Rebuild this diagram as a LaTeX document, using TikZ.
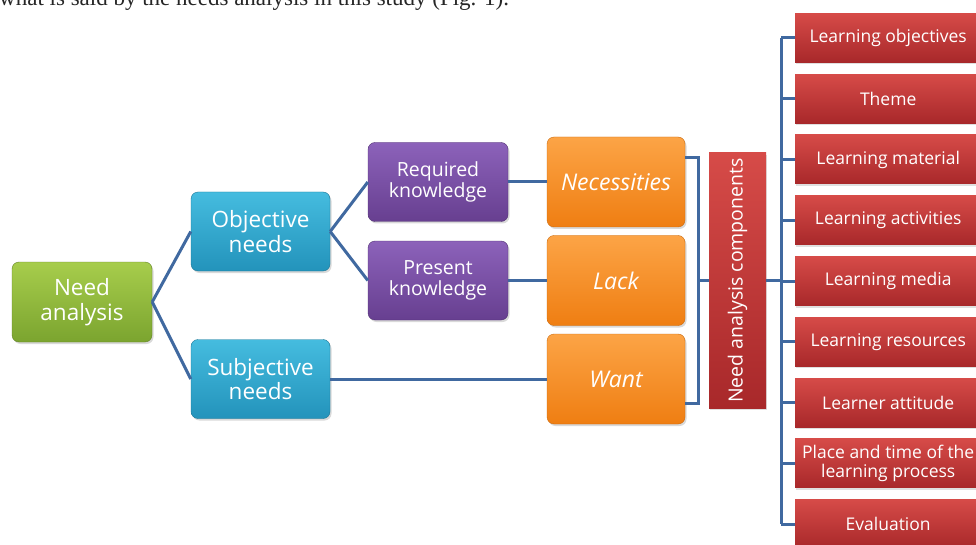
\documentclass[tikz,border=0pt]{standalone}
\usepackage{fontspec}
\setmainfont{Open Sans}
\newfontfamily\captionfont{Liberation Serif}
\usepackage{xcolor}
\usetikzlibrary{positioning,shadows}
\definecolor{linkblue}{HTML}{4069A0}
\definecolor{greentop}{HTML}{A7CD4C}
\definecolor{greenbot}{HTML}{7BA42F}
\definecolor{cyantop}{HTML}{45BCDF}
\definecolor{cyanbot}{HTML}{2393BB}
\definecolor{purpletop}{HTML}{8C62BA}
\definecolor{purplebot}{HTML}{673F90}
\definecolor{orangetop}{HTML}{FCA446}
\definecolor{orangebot}{HTML}{EF7E12}
\definecolor{redtop}{HTML}{D64B48}
\definecolor{redbot}{HTML}{A8282A}

\begin{document}
\begin{tikzpicture}[x=1pt,y=-1pt,
  box/.style={rounded corners=7pt,text=white,align=center,inner sep=2pt,
    drop shadow={shadow xshift=1.5pt,shadow yshift=-2pt,opacity=0.3}},
  greenbox/.style={box,draw=greenbot!80!black,top color=greentop,bottom color=greenbot,
    minimum width=140pt,minimum height=80pt,font=\fontsize{22.5}{24.5}\selectfont},
  cyanbox/.style={box,draw=cyanbot!80!black,top color=cyantop,bottom color=cyanbot,
    minimum width=139pt,minimum height=79pt,font=\fontsize{22.5}{24.5}\selectfont},
  purplebox/.style={box,draw=purplebot!80!black,top color=purpletop,bottom color=purplebot,
    minimum width=140pt,minimum height=79pt,font=\fontsize{19.5}{21.5}\selectfont},
  orangebox/.style={box,draw=orangebot!85!black,top color=orangetop,bottom color=orangebot,
    minimum width=138pt,minimum height=90pt,font=\fontsize{23}{25}\selectfont\itshape},
  redbox/.style={text=white,align=center,inner sep=1pt,top color=redtop,bottom color=redbot,
    drop shadow={shadow xshift=1pt,shadow yshift=-2pt,opacity=0.25}},
  link/.style={draw=linkblue,line width=3pt}]
  \useasboundingbox (0,0) rectangle (976,545);
  \clip (0,0) rectangle (976,545);
  \node[anchor=base west,font=\captionfont\fontsize{23}{23}\selectfont,text=black!85,inner sep=0pt] (caption) at (-1,6) {what is said by the needs analysis in this study (Fig. 1).};
  \node[greenbox] (need) at (82,302) {Need\\analysis};
  \node[cyanbox] (obj) at (260.5,231.5) {Objective\\needs};
  \node[cyanbox] (subj) at (260.5,379) {Subjective\\needs};
  \node[purplebox] (req) at (438,182) {Required\\knowledge};
  \node[purplebox] (pres) at (438,280.5) {Present\\knowledge};
  \node[orangebox] (nec) at (616,182) {Necessities};
  \node[orangebox] (lack) at (616,280.5) {Lack};
  \node[orangebox] (want) at (616,379) {Want};
  \node[redbox,rotate=90,minimum width=255pt,minimum height=57pt,font=\fontsize{19.5}{21}\selectfont] (comp) at (737.5,280.5) {Need analysis components};
  \foreach \txt [count=\i] in {Learning objectives,Theme,Learning material,Learning activities,Learning media,Learning resources,Learner attitude,{Place and time of the\\learning process},Evaluation}
    \node[redbox,anchor=west,minimum width=186pt,minimum height=49pt,font=\fontsize{17.5}{19}\selectfont] (c\i) at (795,{38+60.75*(\i-1)}) {\txt};
  \draw[link] (need.east) -- (obj.west);
  \draw[link] (need.east) -- (subj.west);
  \draw[link] (obj.east) -- (req.west);
  \draw[link] (obj.east) -- (pres.west);
  \draw[link] (req.east) -- (nec.west);
  \draw[link] (pres.east) -- (lack.west);
  \draw[link] (subj.east) -- (want.west);
  \draw[link] ([yshift=24pt]nec.east) -- ++(13,0) coordinate (brk) |- ([yshift=-24pt]want.east);
  \draw[link] (brk |- comp.north) -- (comp.north);
  \draw[link] (comp.south) -- ++(15,0) coordinate (spine);
  \draw[link] (spine |- c1.west) -- (spine |- c9.west);
  \foreach \i in {1,...,9}{\draw[link] (spine |- c\i.west) -- (c\i.west);}
\end{tikzpicture}
\end{document}
